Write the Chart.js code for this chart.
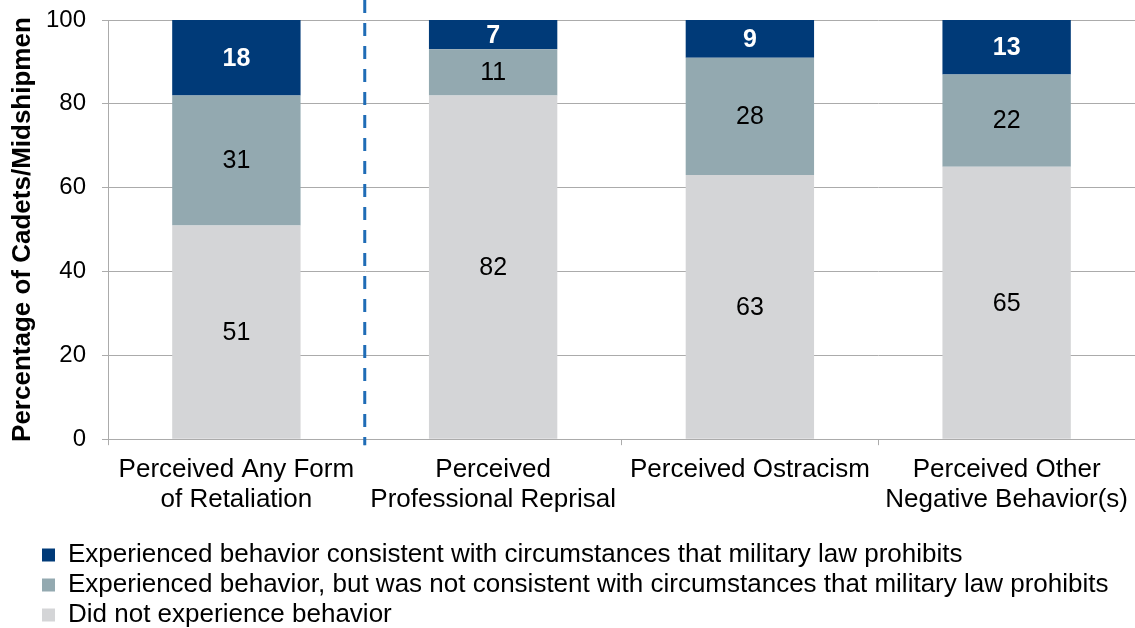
<!DOCTYPE html>
<html>
<head>
<meta charset="utf-8">
<script src="https://cdn.jsdelivr.net/npm/chart.js@4/dist/chart.umd.min.js"></script>
<style>
    html, body { margin: 0; padding: 0; background: #fff; }
    #wrap { width: 1135px; height: 628px; }
</style>
</head>
<body>
<div id="wrap"><canvas id="retaliationChart"></canvas></div>
<script>
const categories = [
    ['Perceived Any Form', 'of Retaliation'],
    ['Perceived', 'Professional Reprisal'],
    'Perceived Ostracism',
    ['Perceived Other', 'Negative Behavior(s)']
];
const didNotExperience = [51, 82, 63, 65];
const notConsistent = [31, 11, 28, 22];
const consistent = [18, 7, 9, 13];
const yTicks = [0, 20, 40, 60, 80, 100];

const FONT = '"Liberation Sans", Arial, sans-serif';
const GRID = '#ababab';

// so nhan giua moi doan cot
const segmentLabels = {
    id: 'segmentLabels',
    afterDatasetsDraw(chart) {
        const ctx = chart.ctx;
        ctx.save();
        ctx.textAlign = 'center';
        ctx.textBaseline = 'middle';
        chart.data.datasets.forEach((ds, i) => {
            const meta = chart.getDatasetMeta(i);
            meta.data.forEach((bar, j) => {
                const mid = (bar.y + bar.base) / 2;
                ctx.font = (ds.labelBold ? 'bold ' : '') + '25px ' + FONT;
                ctx.fillStyle = ds.labelColor;
                ctx.fillText(ds.data[j], bar.x, mid + 1);
            });
        });
        ctx.restore();
    }
};

// duong net dut giua cot 1 va 2
const dividerLine = {
    id: 'dividerLine',
    afterDatasetsDraw(chart) {
        const x = chart.scales.x;
        const px = (x.getPixelForValue(0) + x.getPixelForValue(1)) / 2;
        const ctx = chart.ctx;
        ctx.save();
        ctx.strokeStyle = '#1f6cb6';
        ctx.lineWidth = 3;
        ctx.setLineDash([13, 10]);
        ctx.beginPath();
        ctx.moveTo(px, 0);
        ctx.lineTo(px, chart.chartArea.bottom + 6);
        ctx.stroke();
        ctx.restore();
    }
};

// day legend sang phai va xuong duoi
const legendShift = {
    id: 'legendShift',
    afterLayout(chart) {
        if (chart.legend) {
            chart.legend.left = 38;
            chart.legend.top += 10;
        }
    }
};

new Chart(document.getElementById('retaliationChart'), {
    type: 'bar',
    data: {
        labels: categories,
        datasets: [
            {label: 'Did not experience behavior', data: didNotExperience, backgroundColor: '#d4d5d7', labelColor: '#000', labelBold: false},
            {label: 'Experienced behavior, but was not consistent with circumstances that military law prohibits', data: notConsistent, backgroundColor: '#93a9b0', labelColor: '#000', labelBold: false},
            {label: 'Experienced behavior consistent with circumstances that military law prohibits', data: consistent, backgroundColor: '#003a78', labelColor: '#fff', labelBold: true}
        ]
    },
    options: {
        responsive: true,
        maintainAspectRatio: false,
        animation: false,
        events: [],
        layout: {padding: {top: 20, left: 9, right: -2, bottom: 0}},
        datasets: {bar: {categoryPercentage: 1, barPercentage: 0.5}},
        scales: {
            x: {
                stacked: true,
                afterFit: axis => { axis.paddingLeft = 0; axis.paddingRight = 0; axis.height += 4; },
                grid: {drawOnChartArea: false, color: GRID, tickLength: 6, lineWidth: 1},
                border: {color: GRID},
                ticks: {color: '#000', font: {family: FONT, size: 26, lineHeight: 1.17}, padding: 9, maxRotation: 0}
            },
            y: {
                stacked: true,
                min: 0, max: 100,
                afterBuildTicks: axis => { axis.ticks = yTicks.map(v => ({value: v})); },
                afterFit: axis => { axis.width = 99; axis.paddingTop = 0; axis.paddingBottom = 0; },
                grid: {color: GRID, tickLength: 6},
                border: {color: GRID},
                ticks: {color: '#000', font: {family: FONT, size: 24, lineHeight: 1}, padding: 16},
                title: {display: true, text: 'Percentage of Cadets/Midshipmen', color: '#000', font: {family: FONT, size: 26, weight: 'bold', lineHeight: 1.1}, padding: {top: 0, bottom: 0}}
            }
        },
        plugins: {
            legend: {
                position: 'bottom',
                align: 'start',
                reverse: true,
                labels: {color: '#000', font: {family: FONT, size: 26}, boxWidth: 13, boxHeight: 13, padding: 4}
            },
            tooltip: {enabled: false}
        }
    },
    plugins: [segmentLabels, dividerLine, legendShift]
});
</script>
</body>
</html>
